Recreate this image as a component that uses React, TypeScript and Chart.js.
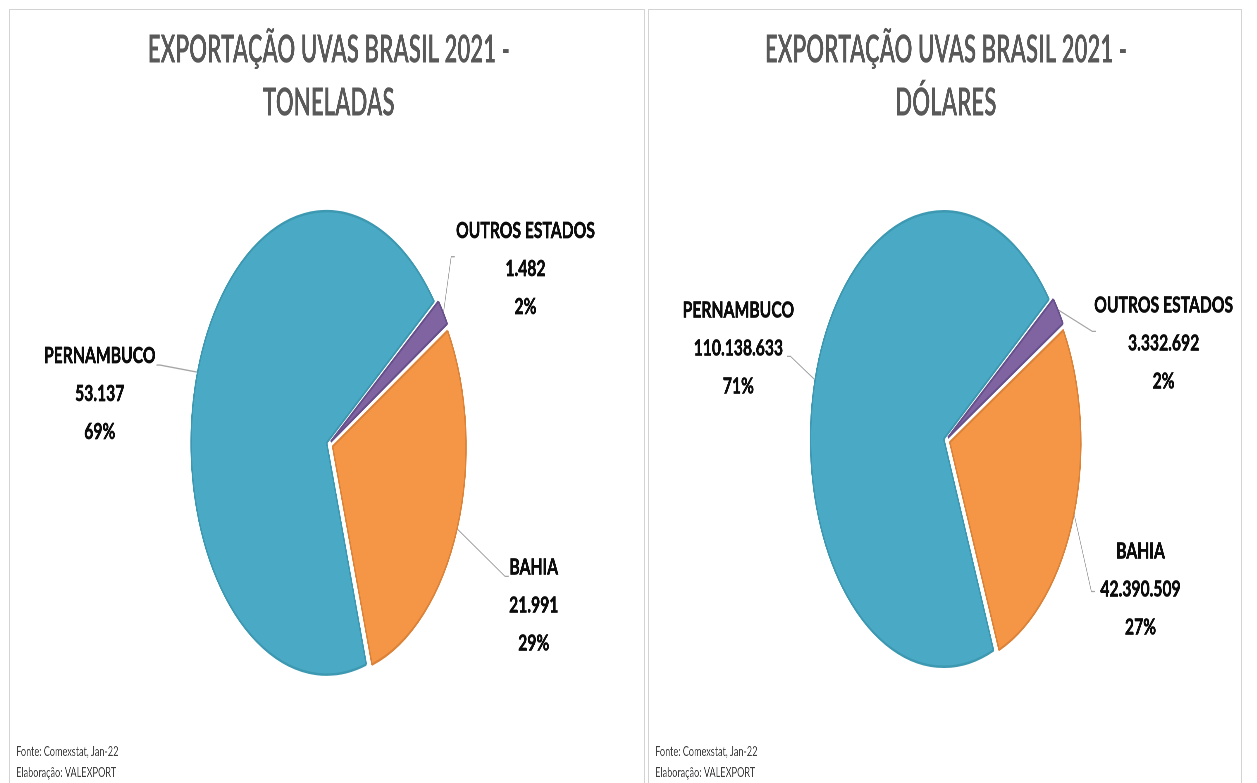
import React, { useEffect, useRef } from 'react';
import { Chart, registerables } from 'chart.js';

Chart.register(...registerables);

// ---------- data ----------
const categories = ['BAHIA', 'PERNAMBUCO', 'OUTROS ESTADOS'];
const toneladasValues = [21991, 53137, 1482];
const dolaresValues = [42390509, 110138633, 3332692];
const titleToneladas = ['EXPORTAÇÃO UVAS BRASIL 2021 -', 'TONELADAS'];
const titleDolares = ['EXPORTAÇÃO UVAS BRASIL 2021 -', 'DÓLARES'];
const footerLines = ['Fonte: Comexstat, Jan-22', 'Elaboração: VALEXPORT'];

// ---------- style ----------
const sliceColors = ['#F59646', '#4AAAC5', '#8064A2'];
const sliceBorders = ['#DC833A', '#3D98B1', '#67508C'];
// Chart.js moves a slice by offset/4*(2 - sin(min(PI, circumference))); these give ~7px each
const sliceOffsets = [28, 15, 16];
const SQUISH = 0.585;
const PANEL_H = 774;

// label placement (block centre relative to slice edge, attach point relative to block centre)
const placementToneladas = [
  { dx: 130, dy: 76, ax: -43, ay: -29 },
  { dx: -166, dy: 22, ax: 97, ay: -29 },
  { dx: 140, dy: -43, ax: -121, ay: -12 },
];
const placementDolares = [
  { dx: 113, dy: 74, ax: -78, ay: 2 },
  { dx: -130, dy: -31, ax: 83, ay: 8 },
  { dx: 179, dy: 33, ax: -116, ay: -12 },
];

function fmtBR(n: number): string {
  return String(n).replace(/\B(?=(\d{3})+(?!\d))/g, '.');
}

function makeLabelPlugin(placement: any[]) {
  return {
    id: 'excelLabels',
    afterDraw(chart: any) {
      const ctx = chart.ctx;
      const meta = chart.getDatasetMeta(0);
      const data: number[] = chart.data.datasets[0].data;
      const total = data.reduce((a, b) => a + b, 0);
      const stretch = 1.22;
      meta.data.forEach((el: any, i: number) => {
        const p = el.getProps(['x', 'y', 'startAngle', 'endAngle', 'outerRadius'], true);
        const o = el.options;
        const mid = (p.startAngle + p.endAngle) / 2;
        const circ = p.endAngle - p.startAngle;
        const shift = ((o.offset || 0) / 4) * (2 - Math.sin(Math.min(Math.PI, circ)));
        const r = p.outerRadius + shift + o.borderWidth / 2;
        const ex = p.x + Math.cos(mid) * r;
        const ey = p.y + Math.sin(mid) * r;
        const pl = placement[i];
        const bx = ex + pl.dx;
        const by = ey + pl.dy;
        const axp = bx + pl.ax;
        const ayp = by + pl.ay;
        const bend = axp + (pl.ax < 0 ? -6 : 6);
        ctx.save();
        ctx.strokeStyle = '#a6a6a6';
        ctx.lineWidth = 1.3;
        ctx.beginPath();
        ctx.moveTo(ex, ey);
        ctx.lineTo(bend, ayp);
        ctx.lineTo(axp, ayp);
        ctx.stroke();
        const lines = [
          String(chart.data.labels[i]),
          fmtBR(data[i]),
          Math.round((data[i] / total) * 100) + '%',
        ];
        ctx.fillStyle = '#0d0d0d';
        ctx.strokeStyle = '#0d0d0d';
        ctx.lineWidth = 0.7;
        ctx.lineJoin = 'round';
        ctx.font = 'bold 22px Lato';
        ctx.textAlign = 'center';
        ctx.textBaseline = 'middle';
        lines.forEach((t, j) => {
          ctx.save();
          ctx.translate(bx, by + (j - 1) * 38);
          ctx.scale(stretch, 1);
          ctx.fillText(t, 0, 0);
          ctx.strokeText(t, 0, 0);
          ctx.restore();
        });
        ctx.restore();
      });
      // footer
      ctx.save();
      ctx.fillStyle = '#3f3f3f';
      ctx.font = '13px Lato';
      ctx.textAlign = 'left';
      ctx.textBaseline = 'middle';
      footerLines.forEach((t, j) => {
        ctx.save();
        ctx.translate(10.5, 742 + j * 21);
        ctx.scale(1.2, 1);
        ctx.fillText(t, 0, 0);
        ctx.restore();
      });
      ctx.restore();
    },
  };
}

type PanelProps = {
  left: number;
  width: number;
  values: number[];
  title: string[];
  placement: any[];
  rotation: number;
  radius: number;
  padLeft: number;
  padBottom: number;
};

function PiePanel(props: PanelProps) {
  const ref = useRef<HTMLCanvasElement | null>(null);
  const contentW = props.width - 2;
  const wU = Math.round(contentW / SQUISH);
  const sx = contentW / wU;

  useEffect(() => {
    if (!ref.current) return;
    const chart = new Chart(ref.current, {
      type: 'pie',
      data: {
        labels: categories,
        datasets: [
          {
            data: props.values,
            backgroundColor: sliceColors,
            borderColor: sliceBorders,
            borderWidth: 2.5,
            offset: sliceOffsets,
            radius: props.radius,
          } as any,
        ],
      },
      options: {
        animation: false,
        responsive: true,
        maintainAspectRatio: false,
        devicePixelRatio: 2,
        events: [],
        rotation: props.rotation,
        layout: { padding: { top: 0, left: props.padLeft, right: 0, bottom: props.padBottom } },
        plugins: {
          legend: { display: false },
          tooltip: { enabled: false },
          title: {
            display: true,
            text: props.title,
            color: '#595959',
            font: { family: 'Lato', weight: 'bold', size: 38, lineHeight: 53 / 38 },
            padding: { top: 13.5, bottom: 0 },
          },
        },
      } as any,
      plugins: [makeLabelPlugin(props.placement)],
    });
    return () => chart.destroy();
  }, []);

  return (
    <div
      style={{
        position: 'absolute',
        left: props.left,
        top: 9,
        width: props.width,
        height: 800,
        border: '1px solid #d3d3d3',
        boxSizing: 'border-box',
        overflow: 'hidden',
        background: '#fff',
      }}
    >
      <div
        style={{
          position: 'relative',
          width: wU,
          height: PANEL_H,
          transform: `scaleX(${sx})`,
          transformOrigin: '0 0',
        }}
      >
        <canvas ref={ref} />
      </div>
    </div>
  );
}

export default function App() {
  return (
    <div
      style={{
        position: 'absolute',
        left: 0,
        top: 0,
        width: 1257,
        height: 783,
        overflow: 'hidden',
        background: '#fff',
      }}
    >
      <PiePanel
        left={9}
        width={636}
        values={toneladasValues}
        title={titleToneladas}
        placement={placementToneladas}
        rotation={59.5}
        radius={228}
        padLeft={6}
        padBottom={25.5}
      />
      <PiePanel
        left={648}
        width={594}
        values={dolaresValues}
        title={titleDolares}
        placement={placementDolares}
        rotation={60}
        radius={224}
        padLeft={3}
        padBottom={33.5}
      />
    </div>
  );
}
